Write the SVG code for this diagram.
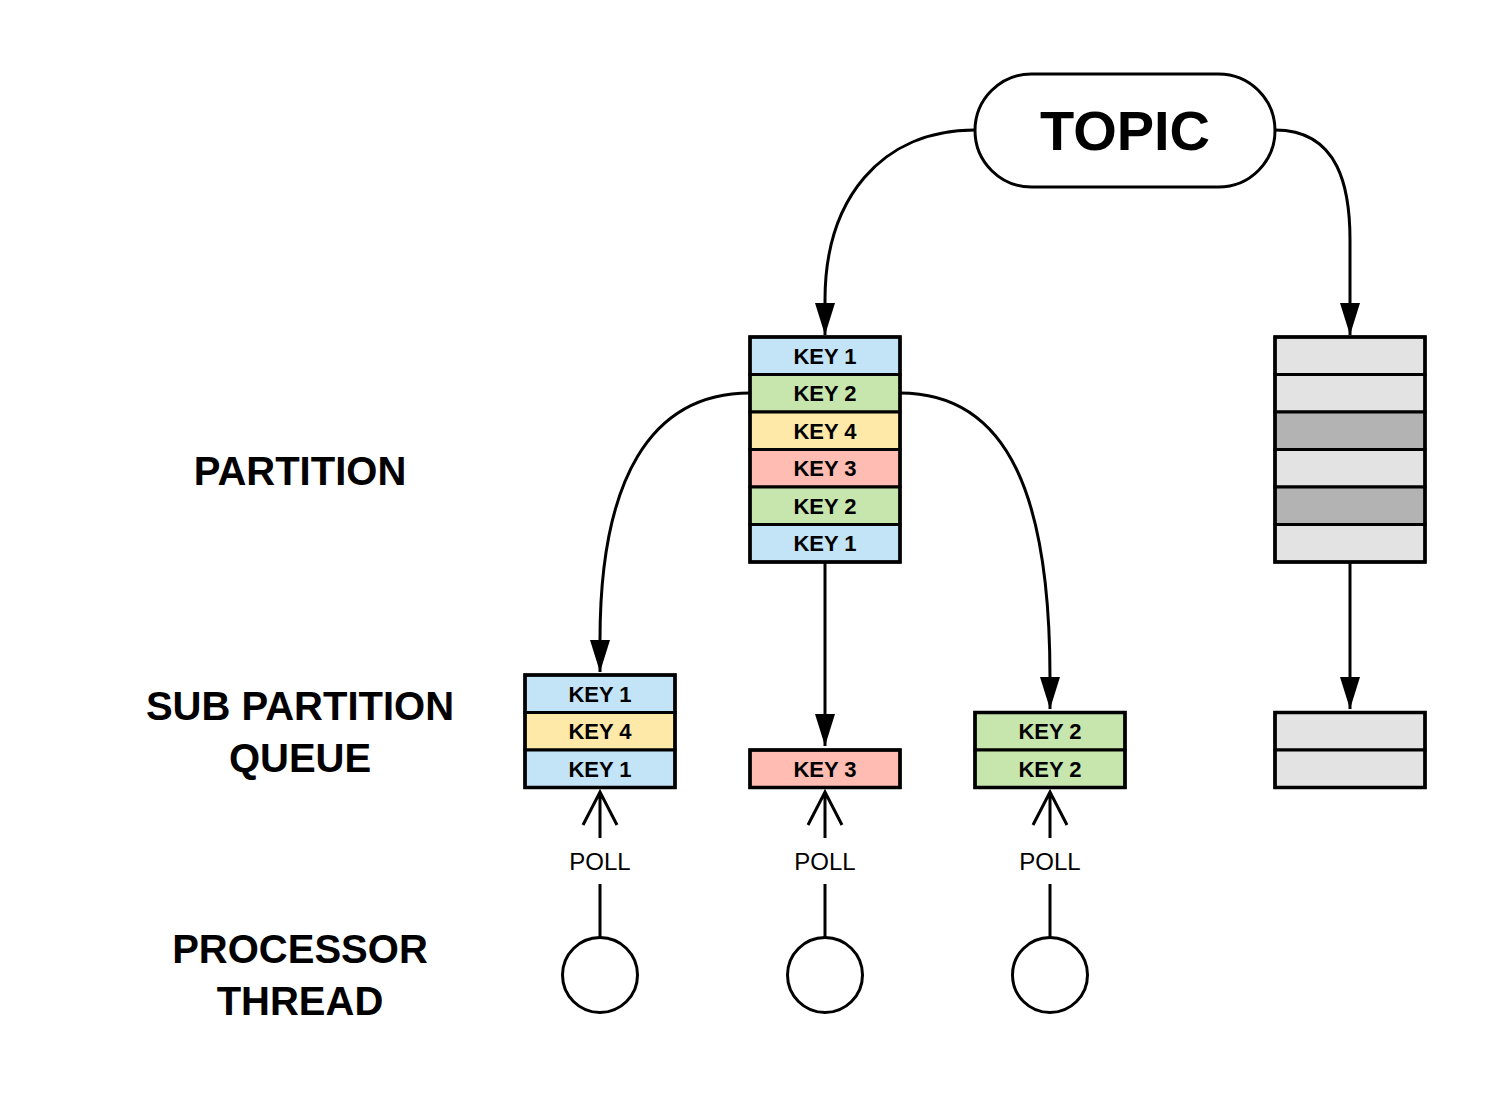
<svg xmlns="http://www.w3.org/2000/svg" width="1500" height="1112" viewBox="0 0 1500 1112">
<defs>
<style>
.lbl{font-family:"Liberation Sans",Arial,sans-serif;font-size:40px;fill:#000;text-anchor:middle;font-weight:bold}
.key{font-family:"Liberation Sans",Arial,sans-serif;font-size:22px;fill:#000;text-anchor:middle;font-weight:bold}
.poll{font-family:"Liberation Sans",Arial,sans-serif;font-size:24px;fill:#000;text-anchor:middle}
.row{stroke:#000;stroke-width:3}
.b{fill:#c2e4f6}.g{fill:#c7e6ae}.y{fill:#fee9a8}.r{fill:#febcb2}.l{fill:#e3e3e3}.d{fill:#b3b3b3}
.frame{fill:none;stroke:#000;stroke-width:3.5}
.conn{fill:none;stroke:#000;stroke-width:3}
</style>
<marker id="ah" viewBox="0 -10 32 20" refX="32" refY="0" markerWidth="32" markerHeight="20" markerUnits="userSpaceOnUse" orient="auto">
<path d="M0,-10 L32,0 L0,10 z" fill="#000"/>
</marker>
</defs>
<rect width="1500" height="1112" fill="#fff"/>

<g id="labels">
<text class="lbl" x="300" y="485">PARTITION</text>
<text class="lbl" x="300" y="720">SUB PARTITION</text>
<text class="lbl" x="300" y="772">QUEUE</text>
<text class="lbl" x="300" y="963">PROCESSOR</text>
<text class="lbl" x="300" y="1015">THREAD</text>
</g>

<g id="connectors">
<path class="conn" d="M975,130 C880,130 825,200 825,300 L825,335" marker-end="url(#ah)"/>
<path class="conn" d="M1275,130 C1340,130 1350,190 1350,240 L1350,335" marker-end="url(#ah)"/>
<path class="conn" d="M750,393 C650,393 600,480 600,640 L600,672" marker-end="url(#ah)"/>
<path class="conn" d="M900,393 C1010,393 1050,500 1050,678 L1050,709" marker-end="url(#ah)"/>
<path class="conn" d="M825,562 L825,746" marker-end="url(#ah)"/>
<path class="conn" d="M1350,562 L1350,709" marker-end="url(#ah)"/>
<g id="poll-arrows">
<path class="conn" d="M600,937 L600,884 M600,838 L600,792 M583,825 L600,792 L617,825"/>
<text class="poll" x="600" y="870">POLL</text>
<path class="conn" d="M825,937 L825,884 M825,838 L825,792 M808,825 L825,792 L842,825"/>
<text class="poll" x="825" y="870">POLL</text>
<path class="conn" d="M1050,937 L1050,884 M1050,838 L1050,792 M1033,825 L1050,792 L1067,825"/>
<text class="poll" x="1050" y="870">POLL</text>
</g>
</g>

<g id="topic">
<rect x="975" y="74" width="300" height="113" rx="56.5" ry="56.5" fill="#fff" stroke="#000" stroke-width="3"/>
<text x="1125" y="150" font-family="'Liberation Sans',Arial,sans-serif" font-size="56" font-weight="bold" text-anchor="middle">TOPIC</text>
</g>

<g id="partition">
<rect class="row b" x="750" y="337" width="150" height="37.5"/>
<rect class="row g" x="750" y="374.5" width="150" height="37.5"/>
<rect class="row y" x="750" y="412" width="150" height="37.5"/>
<rect class="row r" x="750" y="449.5" width="150" height="37.5"/>
<rect class="row g" x="750" y="487" width="150" height="37.5"/>
<rect class="row b" x="750" y="524.5" width="150" height="37.5"/>
<rect class="frame" x="750" y="337" width="150" height="225"/>
<text class="key" x="825" y="364">KEY 1</text>
<text class="key" x="825" y="401">KEY 2</text>
<text class="key" x="825" y="439">KEY 4</text>
<text class="key" x="825" y="476">KEY 3</text>
<text class="key" x="825" y="514">KEY 2</text>
<text class="key" x="825" y="551">KEY 1</text>
</g>

<g id="partition2">
<rect class="row l" x="1275" y="337" width="150" height="37.5"/>
<rect class="row l" x="1275" y="374.5" width="150" height="37.5"/>
<rect class="row d" x="1275" y="412" width="150" height="37.5"/>
<rect class="row l" x="1275" y="449.5" width="150" height="37.5"/>
<rect class="row d" x="1275" y="487" width="150" height="37.5"/>
<rect class="row l" x="1275" y="524.5" width="150" height="37.5"/>
<rect class="frame" x="1275" y="337" width="150" height="225"/>
</g>

<g id="subqueue1">
<rect class="row b" x="525" y="675" width="150" height="37.5"/>
<rect class="row y" x="525" y="712.5" width="150" height="37.5"/>
<rect class="row b" x="525" y="750" width="150" height="37.5"/>
<rect class="frame" x="525" y="675" width="150" height="112.5"/>
<text class="key" x="600" y="702">KEY 1</text>
<text class="key" x="600" y="739">KEY 4</text>
<text class="key" x="600" y="777">KEY 1</text>
</g>

<g id="subqueue2">
<rect class="row r" x="750" y="750" width="150" height="37.5"/>
<rect class="frame" x="750" y="750" width="150" height="37.5"/>
<text class="key" x="825" y="777">KEY 3</text>
</g>

<g id="subqueue3">
<rect class="row g" x="975" y="712.5" width="150" height="37.5"/>
<rect class="row g" x="975" y="750" width="150" height="37.5"/>
<rect class="frame" x="975" y="712.5" width="150" height="75"/>
<text class="key" x="1050" y="739">KEY 2</text>
<text class="key" x="1050" y="777">KEY 2</text>
</g>

<g id="subqueue4">
<rect class="row l" x="1275" y="712.5" width="150" height="37.5"/>
<rect class="row l" x="1275" y="750" width="150" height="37.5"/>
<rect class="frame" x="1275" y="712.5" width="150" height="75"/>
</g>

<g id="thread1"><circle cx="600" cy="975" r="37.5" fill="#fff" stroke="#000" stroke-width="3"/></g>
<g id="thread2"><circle cx="825" cy="975" r="37.5" fill="#fff" stroke="#000" stroke-width="3"/></g>
<g id="thread3"><circle cx="1050" cy="975" r="37.5" fill="#fff" stroke="#000" stroke-width="3"/></g>
</svg>
